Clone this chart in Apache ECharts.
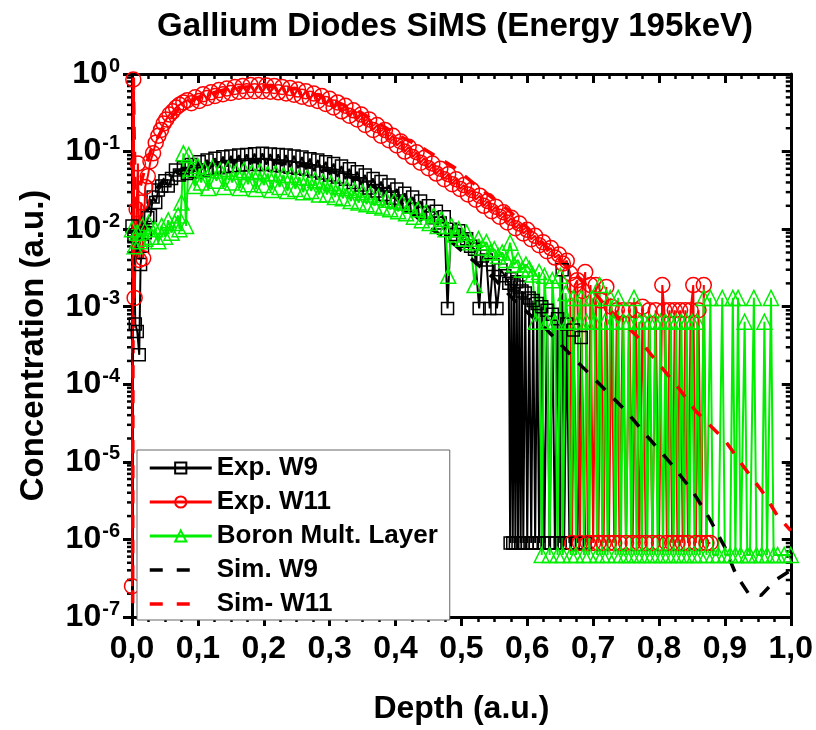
<!DOCTYPE html>
<html>
<head>
<meta charset="utf-8">
<script src="https://cdn.jsdelivr.net/npm/echarts@6/dist/echarts.min.js"></script>
<style>html,body{margin:0;padding:0;background:#fff;}#c{width:816px;height:730px;}</style>
</head>
<body>
<div id="c"></div>
<script>
// ---- data (depth [a.u.], concentration [a.u.]) ----
const expW9 = [
[0,1.1e-2],[0.003,8e-3],[0.005,6e-4],[0.008,4.8e-4],[0.011,2.4e-4],[0.013,3.5e-3],[0.016,6e-3],[0.02,9e-3],
[0.024,1.4e-2],[0.028,1.5e-2],[0.032,2.6e-2],[0.036,2.2e-2],[0.04,3.2e-2],[0.045,3.6e-2],[0.05,4.2e-2],[0.055,3.6e-2],
[0.06,4.5e-2],[0.066,5.8e-2],[0.072,5.0e-2],[0.078,6.2e-2],[0.084,5.2e-2],[0.09,6.8e-2],[0.096,5.5e-2],[0.102,7.4e-2],
[0.108,5.8e-2],[0.114,7.8e-2],[0.12,6.0e-2],[0.126,8.2e-2],[0.132,6.2e-2],[0.138,8.6e-2],[0.144,6.4e-2],[0.15,8.8e-2],
[0.156,6.6e-2],[0.162,9.0e-2],[0.168,6.7e-2],[0.174,9.2e-2],[0.18,6.8e-2],[0.186,9.4e-2],[0.192,6.8e-2],[0.198,9.5e-2],
[0.204,6.8e-2],[0.21,9.3e-2],[0.216,6.6e-2],[0.222,9.2e-2],[0.228,6.5e-2],[0.234,9.0e-2],[0.24,6.3e-2],[0.246,8.8e-2],
[0.252,6.1e-2],[0.258,8.5e-2],[0.264,5.9e-2],[0.27,8.1e-2],[0.276,5.6e-2],[0.282,7.8e-2],[0.288,5.3e-2],[0.294,7.4e-2],
[0.3,5.0e-2],[0.306,7.0e-2],[0.312,4.7e-2],[0.318,6.5e-2],[0.324,4.4e-2],[0.33,6.0e-2],[0.336,4.0e-2],[0.342,5.5e-2],
[0.348,3.7e-2],[0.354,5.0e-2],[0.36,3.4e-2],[0.366,4.5e-2],[0.372,3.1e-2],[0.378,4.1e-2],[0.384,2.8e-2],[0.39,3.7e-2],
[0.396,2.5e-2],[0.402,3.3e-2],[0.408,2.2e-2],[0.414,2.9e-2],[0.42,2.0e-2],[0.426,2.6e-2],[0.432,1.8e-2],[0.438,2.3e-2],
[0.444,1.6e-2],[0.45,2.0e-2],[0.456,1.4e-2],[0.462,1.7e-2],[0.468,1.2e-2],[0.474,1.45e-2],[0.479,9.5e-4],[0.484,1.0e-2],
[0.49,8.5e-3],[0.496,9.5e-3],[0.502,7e-3],[0.508,7.5e-3],[0.514,6e-3],[0.52,5.5e-3],[0.527,9.5e-4],[0.532,4.5e-3],
[0.538,4.0e-3],[0.543,9.5e-4],[0.548,3.5e-3],[0.554,9.5e-4],[0.56,3.0e-3],[0.566,2.5e-3],[0.572,2e-3],[0.574,9e-7],
[0.576,2.3e-3],[0.578,9e-7],[0.58,1.9e-3],[0.582,9e-7],[0.584,2.1e-3],[0.586,9e-7],[0.588,1.8e-3],[0.59,9e-7],
[0.592,1.6e-3],[0.594,9e-7],[0.597,1.5e-3],[0.6,9e-7],[0.603,1.3e-3],[0.606,9e-7],[0.609,1.2e-3],[0.612,9e-7],
[0.615,1.1e-3],[0.618,9e-7],[0.622,1.0e-3],[0.626,9e-7],[0.63,9e-4],[0.634,9e-7],[0.638,8e-4],[0.642,9e-7],
[0.646,7e-4],[0.65,9e-7],[0.653,3e-3],[0.656,9e-7],[0.66,6e-4],[0.664,9e-7],[0.67,5e-4],[0.676,9e-7],[0.682,4e-4],[0.688,9e-7]
];
const expW11 = [
[0,2.5e-7],[0.002,0.85],[0.004,1.3e-3],[0.007,1.8e-2],[0.009,7e-2],[0.011,4e-3],[0.014,2.2e-2],[0.017,4.2e-3],
[0.02,3.5e-2],[0.024,4.8e-2],[0.028,7.5e-2],[0.032,0.095],[0.036,0.13],[0.04,0.16],[0.044,0.19],[0.048,0.23],
[0.052,0.26],[0.057,0.3],[0.062,0.33],[0.067,0.37],[0.072,0.4],[0.078,0.43],[0.084,0.46],[0.09,0.42],[0.096,0.5],
[0.102,0.45],[0.108,0.55],[0.114,0.49],[0.12,0.58],[0.126,0.52],[0.132,0.62],[0.138,0.55],[0.144,0.65],[0.15,0.57],
[0.156,0.68],[0.162,0.59],[0.168,0.7],[0.174,0.6],[0.18,0.72],[0.186,0.6],[0.192,0.72],[0.198,0.6],[0.204,0.71],
[0.21,0.59],[0.216,0.7],[0.222,0.58],[0.228,0.68],[0.234,0.56],[0.24,0.66],[0.246,0.54],[0.252,0.63],[0.258,0.51],
[0.264,0.6],[0.27,0.48],[0.276,0.56],[0.282,0.45],[0.288,0.52],[0.294,0.41],[0.3,0.48],[0.306,0.37],[0.312,0.43],
[0.318,0.33],[0.324,0.39],[0.33,0.29],[0.336,0.34],[0.342,0.26],[0.348,0.3],[0.354,0.22],[0.36,0.26],[0.366,0.19],
[0.372,0.22],[0.378,0.16],[0.384,0.19],[0.39,0.14],[0.396,0.16],[0.402,0.12],[0.408,0.135],[0.414,0.1],[0.42,0.115],
[0.426,0.085],[0.432,0.098],[0.438,0.072],[0.444,0.083],[0.45,0.061],[0.456,0.07],[0.462,0.052],[0.468,0.06],
[0.474,0.044],[0.48,0.051],[0.486,0.038],[0.492,0.044],[0.498,0.033],[0.504,0.037],[0.51,0.028],[0.516,0.032],
[0.522,0.024],[0.528,0.027],[0.534,0.02],[0.54,0.023],[0.546,0.017],[0.552,0.0195],[0.558,0.0145],[0.564,0.0165],
[0.57,0.0122],[0.576,0.014],[0.582,0.0103],[0.588,0.0118],[0.594,0.0088],[0.6,0.0098],[0.606,0.0074],[0.612,0.0082],
[0.618,0.0062],[0.624,0.0068],[0.63,0.0052],[0.636,0.0057],[0.642,0.0043],[0.648,0.0047],[0.654,0.0036],[0.66,0.0039],
[0.665,0.0027],[0.668,9e-7],[0.672,0.0019],[0.676,0.0022],[0.68,9e-7],[0.684,0.0016],[0.688,0.0028],[0.692,9e-7],
[0.696,0.0019],[0.7,9e-7],[0.704,0.0019],[0.708,9e-7],[0.712,0.0012],[0.716,9e-7],[0.72,0.0018],[0.724,9e-7],
[0.728,0.0010],[0.732,9e-7],[0.736,0.0009],[0.74,9e-7],[0.745,0.0009],[0.75,9e-7],[0.755,0.0009],[0.76,9e-7],
[0.765,0.0009],[0.77,9e-7],[0.775,0.0010],[0.78,9e-7],[0.785,0.0009],[0.79,9e-7],[0.795,0.0009],[0.8,9e-7],
[0.805,0.0019],[0.808,0.0009],[0.812,9e-7],[0.816,0.0009],[0.82,9e-7],[0.824,0.0009],[0.828,9e-7],[0.832,0.0009],
[0.836,9e-7],[0.84,0.0009],[0.844,9e-7],[0.848,0.0009],[0.852,0.0019],[0.856,9e-7],[0.86,0.0009],[0.864,9e-7],
[0.868,0.0019],[0.872,9e-7],[0.878,9e-7]
];
const boron = [
[0,1.0e-2],[0.004,6e-3],[0.008,9e-3],[0.012,7e-3],[0.016,1.1e-2],[0.02,7.5e-3],[0.025,1.2e-2],[0.03,8e-3],
[0.035,1.0e-2],[0.04,7e-3],[0.045,1.1e-2],[0.05,8e-3],[0.055,1.3e-2],[0.06,9e-3],[0.065,1.2e-2],[0.07,1.5e-2],
[0.072,1.0e-2],[0.075,2.2e-2],[0.078,9.5e-2],[0.082,1.1e-2],[0.086,9e-2],[0.09,6e-2],[0.095,3.6e-2],[0.1,6.5e-2],
[0.105,4e-2],[0.11,5.8e-2],[0.116,3.4e-2],[0.122,6.2e-2],[0.128,4.2e-2],[0.134,5.7e-2],[0.14,3.5e-2],[0.146,6e-2],
[0.152,4e-2],[0.158,5.5e-2],[0.164,3.4e-2],[0.17,5.8e-2],[0.176,3.8e-2],[0.182,5.4e-2],[0.188,3.3e-2],[0.194,5.6e-2],
[0.2,3.7e-2],[0.206,5.2e-2],[0.212,3.2e-2],[0.218,5.3e-2],[0.224,3.5e-2],[0.23,5e-2],[0.236,3.1e-2],[0.242,5e-2],
[0.248,3.3e-2],[0.254,4.7e-2],[0.26,3e-2],[0.266,4.6e-2],[0.272,3.1e-2],[0.278,4.3e-2],[0.284,2.8e-2],[0.29,4.1e-2],
[0.296,2.8e-2],[0.302,3.9e-2],[0.308,2.6e-2],[0.314,3.6e-2],[0.32,2.5e-2],[0.326,3.4e-2],[0.332,2.3e-2],[0.338,3.2e-2],
[0.344,2.2e-2],[0.35,3e-2],[0.356,2.1e-2],[0.362,2.8e-2],[0.368,2e-2],[0.374,2.6e-2],[0.38,1.9e-2],[0.386,2.4e-2],
[0.392,1.8e-2],[0.398,2.3e-2],[0.404,1.7e-2],[0.41,2.2e-2],[0.416,1.6e-2],[0.422,2e-2],[0.428,1.45e-2],[0.434,1.8e-2],
[0.44,1.3e-2],[0.446,1.65e-2],[0.452,1.2e-2],[0.458,1.5e-2],[0.464,1.1e-2],[0.47,1.35e-2],[0.476,1.0e-2],[0.48,2.5e-3],
[0.485,1.1e-2],[0.49,8.5e-3],[0.496,1.0e-2],[0.502,7.5e-3],[0.508,9e-3],[0.514,6.8e-3],[0.52,1.9e-3],[0.526,7.5e-3],
[0.532,5.8e-3],[0.538,6.8e-3],[0.544,5e-3],[0.55,5.5e-3],[0.556,4.5e-3],[0.562,5e-3],[0.568,4e-3],[0.574,6.7e-3],
[0.58,3.5e-3],[0.586,4e-3],[0.592,3.0e-3],[0.598,3.5e-3],[0.603,3.1e-3],[0.608,2.6e-3],[0.613,6.4e-4],[0.618,2.8e-3],
[0.622,6.3e-7],[0.626,2.5e-3],[0.63,6.4e-4],[0.634,6.3e-7],[0.638,2.2e-3],[0.642,6.4e-4],[0.646,6.3e-7],[0.65,2.5e-3],
[0.654,6.3e-7],[0.658,1.5e-3],[0.662,6.4e-4],[0.666,6.3e-7],[0.67,1.3e-3],[0.674,6.3e-7],[0.678,6.4e-4],[0.682,1.3e-3],
[0.686,6.3e-7],[0.69,6.4e-4],[0.694,6.3e-7],[0.698,1.3e-3],[0.702,6.4e-4],[0.706,6.3e-7],[0.71,1.9e-3],[0.714,6.3e-7],
[0.718,6.4e-4],[0.722,6.3e-7],[0.726,1.3e-3],[0.73,6.4e-4],[0.734,6.3e-7],[0.738,1.3e-3],[0.742,6.3e-7],[0.746,6.4e-4],
[0.75,6.3e-7],[0.754,6.4e-4],[0.758,6.3e-7],[0.762,1.3e-3],[0.766,6.3e-7],[0.77,6.4e-4],[0.774,6.3e-7],[0.778,6.4e-4],
[0.782,6.3e-7],[0.786,6.4e-4],[0.79,6.3e-7],[0.794,6.4e-4],[0.798,6.3e-7],[0.802,6.4e-4],[0.806,6.3e-7],[0.81,6.4e-4],
[0.814,6.3e-7],[0.818,6.4e-4],[0.822,6.3e-7],[0.826,6.4e-4],[0.83,6.3e-7],[0.834,6.4e-4],[0.838,6.3e-7],[0.842,6.4e-4],
[0.846,6.3e-7],[0.85,6.4e-4],[0.854,6.3e-7],[0.858,6.4e-4],[0.862,6.3e-7],[0.868,1.3e-3],[0.872,6.3e-7],[0.878,1.3e-3],
[0.882,6.3e-7],[0.89,6.3e-7],[0.896,1.3e-3],[0.9,6.3e-7],[0.908,6.3e-7],[0.912,1.3e-3],[0.916,6.3e-7],[0.92,1.3e-3],
[0.924,6.3e-7],[0.93,6.4e-4],[0.934,6.3e-7],[0.938,6.3e-7],[0.944,1.3e-3],[0.948,6.3e-7],[0.956,6.3e-7],[0.96,6.4e-4],
[0.964,6.3e-7],[0.97,1.3e-3],[0.974,6.3e-7],[0.98,6.3e-7],[0.99,6.3e-7],[1.0,6.3e-7]
];
const simW9 = [
[0.005,4e-3],[0.015,1.0e-2],[0.025,2.0e-2],[0.035,3.2e-2],[0.05,4.5e-2],[0.07,5.6e-2],[0.1,6.6e-2],[0.15,7.4e-2],
[0.2,7.4e-2],[0.25,6.8e-2],[0.3,5.6e-2],[0.35,4.2e-2],[0.4,2.5e-2],[0.45,1.05e-2],[0.48,7.4e-3],[0.51,4.5e-3],
[0.55,2.3e-3],[0.585,1.1e-3],[0.63,5e-4],[0.67,2.2e-4],[0.71,1.0e-4],[0.75,4.5e-5],[0.785,2.0e-5],[0.82,9.1e-6],
[0.85,4.3e-6],[0.876,1.9e-6],[0.9,7.9e-7],[0.917,3.5e-7],[0.936,2.0e-7],[0.955,1.9e-7],[0.977,3.0e-7],[1.0,4.0e-7]
];
const simW11 = [
[0.001,1.5e-7],[0.002,0.9],[0.005,2e-2],[0.012,3.5e-2],[0.02,6.3e-2],[0.03,0.11],[0.05,0.22],[0.07,0.35],[0.1,0.5],
[0.15,0.66],[0.2,0.7],[0.25,0.64],[0.3,0.48],[0.35,0.31],[0.4,0.17],[0.44,0.112],[0.49,6.2e-2],[0.52,3.8e-2],
[0.57,1.8e-2],[0.6,1.05e-2],[0.633,5.5e-3],[0.674,2.5e-3],[0.7,1.6e-3],[0.72,1.0e-3],[0.765,4.3e-4],[0.79,2.3e-4],
[0.83,8.9e-5],[0.856,4.5e-5],[0.9,1.9e-5],[0.93,8.3e-6],[0.96,3.8e-6],[0.98,2.0e-6],[1.0,1.3e-6]
];
const legendNames = ['Exp. W9', 'Exp. W11', 'Boron Mult. Layer', 'Sim. W9', 'Sim- W11'];
const xTickLabels = ['0,0','0,1','0,2','0,3','0,4','0,5','0,6','0,7','0,8','0,9','1,0'];
const yMinorTicks = [
2e-7,3e-7,4e-7,5e-7,6e-7,7e-7,8e-7,9e-7, 2e-6,3e-6,4e-6,5e-6,6e-6,7e-6,8e-6,9e-6,
2e-5,3e-5,4e-5,5e-5,6e-5,7e-5,8e-5,9e-5, 2e-4,3e-4,4e-4,5e-4,6e-4,7e-4,8e-4,9e-4,
2e-3,3e-3,4e-3,5e-3,6e-3,7e-3,8e-3,9e-3, 2e-2,3e-2,4e-2,5e-2,6e-2,7e-2,8e-2,9e-2,
0.2,0.3,0.4,0.5,0.6,0.7,0.8,0.9
];

const FONT = 'Arial, "Liberation Sans", sans-serif';
const GREEN = '#00ee00';
const chart = echarts.init(document.getElementById('c'), null, {renderer: 'canvas'});

function yLabel(v){
  const e = Math.round(Math.log10(v));
  return '{b|10}{s|' + e + '}';
}
const yRich = {
  b: {fontSize: 32, fontWeight: 'bold', fontFamily: FONT, color: '#000'},
  s: {fontSize: 20, fontWeight: 'bold', fontFamily: FONT, color: '#000', padding: [0, 0, 16, 1]}
};
const legendDash = [13, 14, 13, 40];

const option = {
  backgroundColor: '#fff',
  animation: false,
  title: {
    text: 'Gallium Diodes SiMS (Energy 195keV)',
    left: 152, top: 5,
    textStyle: {fontSize: 33, fontWeight: 'bold', fontFamily: FONT, color: '#000'}
  },
  grid: {left: 132, right: 24, top: 74, bottom: 110, containLabel: false},
  legend: {
    data: [
      {name: legendNames[0], lineStyle: {width: 3}},
      {name: legendNames[1], lineStyle: {width: 3}},
      {name: legendNames[2], lineStyle: {width: 3}},
      {name: legendNames[3], itemStyle: {opacity: 0}, lineStyle: {type: legendDash, width: 3.5}},
      {name: legendNames[4], itemStyle: {opacity: 0}, lineStyle: {type: legendDash, width: 3.5}}
    ],
    orient: 'vertical', left: 137, top: 450,
    padding: [5, 12, 3, 11], itemGap: 8, itemWidth: 62, itemHeight: 14,
    backgroundColor: '#fff', borderColor: '#666', borderWidth: 1,
    textStyle: {fontSize: 26, fontWeight: 'bold', fontFamily: FONT, color: '#000'}
  },
  xAxis: [{
    type: 'value', min: 0, max: 1, interval: 0.1, position: 'bottom',
    name: 'Depth (a.u.)', nameLocation: 'middle', nameGap: 76,
    nameTextStyle: {fontSize: 32, fontWeight: 'bold', fontFamily: FONT, color: '#000'},
    axisLine: {show: true, onZero: false, lineStyle: {color: '#000', width: 3}},
    axisTick: {show: true, inside: false, length: 9, lineStyle: {color: '#000', width: 3}},
    minorTick: {show: true, splitNumber: 4, length: 5, lineStyle: {color: '#000', width: 2.5}},
    axisLabel: {margin: 16, fontSize: 32, fontWeight: 'bold', fontFamily: FONT, color: '#000',
      formatter: function(v){ return xTickLabels[Math.round(v * 10)]; }},
    splitLine: {show: false}
  }, {
    type: 'value', min: 0, max: 1, interval: 0.1, position: 'top',
    axisLine: {show: true, onZero: false, lineStyle: {color: '#000', width: 3}},
    axisTick: {show: true, inside: true, length: 9, lineStyle: {color: '#000', width: 3}},
    minorTick: {show: true, splitNumber: 4, length: 5, lineStyle: {color: '#000', width: 2.5}},
    axisLabel: {show: false}, splitLine: {show: false}
  }],
  yAxis: [{
    type: 'log', logBase: 10, min: 1e-7, max: 1, interval: 1, position: 'left',
    name: 'Concentration (a.u.)', nameLocation: 'middle', nameGap: 82, nameRotate: 90,
    nameTextStyle: {fontSize: 33, fontWeight: 'bold', fontFamily: FONT, color: '#000'},
    axisLine: {show: true, onZero: false, lineStyle: {color: '#000', width: 3}},
    axisTick: {show: true, inside: false, length: 9, lineStyle: {color: '#000', width: 3}},
    axisLabel: {margin: 12, formatter: yLabel, rich: yRich},
    splitLine: {show: false}
  }, {
    type: 'log', logBase: 10, min: 1e-7, max: 1, interval: 1, position: 'right',
    axisLine: {show: true, onZero: false, lineStyle: {color: '#000', width: 3}},
    axisTick: {show: true, inside: true, length: 9, lineStyle: {color: '#000', width: 3}},
    axisLabel: {show: false}, splitLine: {show: false}
  }],
  series: [
    {
      name: legendNames[0], type: 'line', data: expW9, xAxisIndex: 0, yAxisIndex: 0,
      symbol: 'rect', symbolSize: 12, showSymbol: true, showAllSymbol: true,
      lineStyle: {color: '#000', width: 2},
      itemStyle: {color: 'rgba(255,255,255,0)', borderColor: '#000', borderWidth: 1.5}
    },
    {
      name: legendNames[1], type: 'line', data: expW11, xAxisIndex: 0, yAxisIndex: 0,
      symbol: 'circle', symbolSize: 15, showSymbol: true, showAllSymbol: true,
      lineStyle: {color: '#ff0000', width: 2},
      itemStyle: {color: 'rgba(255,255,255,0)', borderColor: '#ff0000', borderWidth: 1.5}
    },
    {
      name: legendNames[2], type: 'line', data: boron, xAxisIndex: 0, yAxisIndex: 0,
      symbol: 'triangle', symbolSize: 15, showSymbol: true, showAllSymbol: true,
      lineStyle: {color: GREEN, width: 2},
      itemStyle: {color: 'rgba(255,255,255,0)', borderColor: GREEN, borderWidth: 1.5}
    },
    {
      name: legendNames[3], type: 'line', data: simW9, xAxisIndex: 0, yAxisIndex: 0,
      symbol: 'none', smooth: false,
      lineStyle: {color: '#000', width: 3.5, type: [13, 12]},
      itemStyle: {color: '#000', opacity: 0}
    },
    {
      name: legendNames[4], type: 'line', data: simW11, xAxisIndex: 0, yAxisIndex: 0,
      symbol: 'none', smooth: false,
      lineStyle: {color: '#ff0000', width: 3.5, type: [13, 12]},
      itemStyle: {color: '#ff0000', opacity: 0}
    },
    {
      name: 'minorTicks', type: 'custom', xAxisIndex: 0, yAxisIndex: 0, clip: false, silent: true,
      data: yMinorTicks.map(function(v){ return [0, v]; }),
      renderItem: function(params, api){
        const v = api.value(1);
        const pL = api.coord([0, v]);
        const pR = api.coord([1, v]);
        const st = {stroke: '#000', lineWidth: 2.5};
        return {type: 'group', children: [
          {type: 'line', shape: {x1: pL[0] - 5, y1: pL[1], x2: pL[0], y2: pL[1]}, style: st},
          {type: 'line', shape: {x1: pR[0], y1: pR[1], x2: pR[0] - 5, y2: pR[1]}, style: st}
        ]};
      }
    }
  ]
};
chart.setOption(option);
</script>
</body>
</html>
